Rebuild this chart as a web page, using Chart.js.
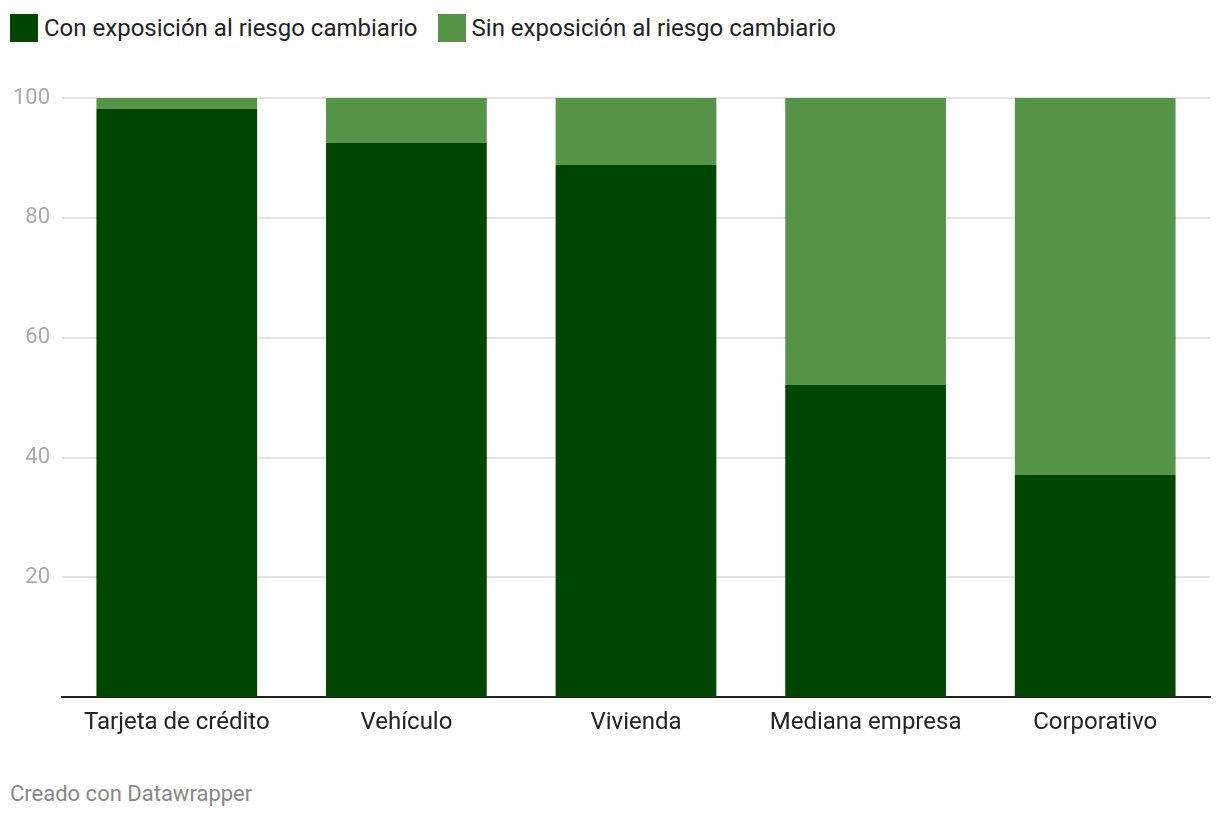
<!DOCTYPE html>
<html>
<head>
<meta charset="utf-8">
<script src="https://cdn.jsdelivr.net/npm/chart.js@4.4.1/dist/chart.umd.min.js"></script>
<style>
  body { margin: 0; background: #fff; font-family: Roboto, sans-serif; }
  #wrap { position: relative; width: 1220px; height: 820px; }
  #legend { position: absolute; left: 10px; top: 14px; display: flex; align-items: center; }
  .item { display: flex; align-items: center; margin-right: 20px; }
  .box { width: 28px; height: 28px; margin-right: 6px; }
  .lbl { font-size: 24px; color: #222; line-height: 28px; }
  #foot { position: absolute; left: 10px; top: 781px; font-size: 22px; color: #888; }
  canvas { position: absolute; left: 0; top: 0; }
</style>
</head>
<body>
<div id="wrap">
  <div id="legend"></div>
  <canvas id="chart" width="1220" height="780"></canvas>
  <div id="foot">Creado con Datawrapper</div>
</div>
<script>
const categories = ['Tarjeta de crédito', 'Vehículo', 'Vivienda', 'Mediana empresa', 'Corporativo'];
const withRisk = [98.2, 92.5, 88.8, 52.1, 37.1];
const withoutRisk = [1.8, 7.5, 11.2, 47.9, 62.9];
const seriesNames = ['Con exposición al riesgo cambiario', 'Sin exposición al riesgo cambiario'];
const seriesColors = ['#004500', '#569548'];
const yTicks = [20, 40, 60, 80, 100];

/* legend in html */
const legend = document.getElementById('legend');
seriesNames.forEach((name, i) => {
    const item = document.createElement('div');
    item.className = 'item';
    item.innerHTML = '<div class="box" style="background:' + seriesColors[i] + '"></div><span class="lbl">' + name + '</span>';
    legend.appendChild(item);
});

const ctx = document.getElementById('chart').getContext('2d');

new Chart(ctx, {
    type: 'bar',
    data: {
        labels: categories,
        datasets: [{
            label: seriesNames[0],
            data: withRisk,
            backgroundColor: seriesColors[0]
        }, {
            label: seriesNames[1],
            data: withoutRisk,
            backgroundColor: seriesColors[1]
        }]
    },
    options: {
        responsive: false,
        animation: false,
        layout: { padding: { left: 10, right: 10, top: 98, bottom: 32 } },
        plugins: { legend: { display: false }, tooltip: { enabled: false } },
        datasets: { bar: { categoryPercentage: 1, barPercentage: 0.70 } },
        scales: {
            x: {
                stacked: true,
                grid: { display: false, drawTicks: false },
                border: { display: true, color: '#222', width: 2 },
                ticks: { color: '#222', font: { family: 'Roboto', size: 24 }, padding: 11 }
            },
            y: {
                stacked: true,
                min: 0,
                max: 100,
                afterFit: (scale) => { scale.width = 52; },
                afterBuildTicks: (scale) => { scale.ticks = yTicks.map(v => ({ value: v })); },
                grid: { color: '#e3e3e3', lineWidth: 2, drawTicks: false },
                border: { display: false },
                ticks: { color: '#aaa', font: { family: 'Roboto', size: 22 }, padding: 12 }
            }
        }
    }
});
</script>
</body>
</html>
